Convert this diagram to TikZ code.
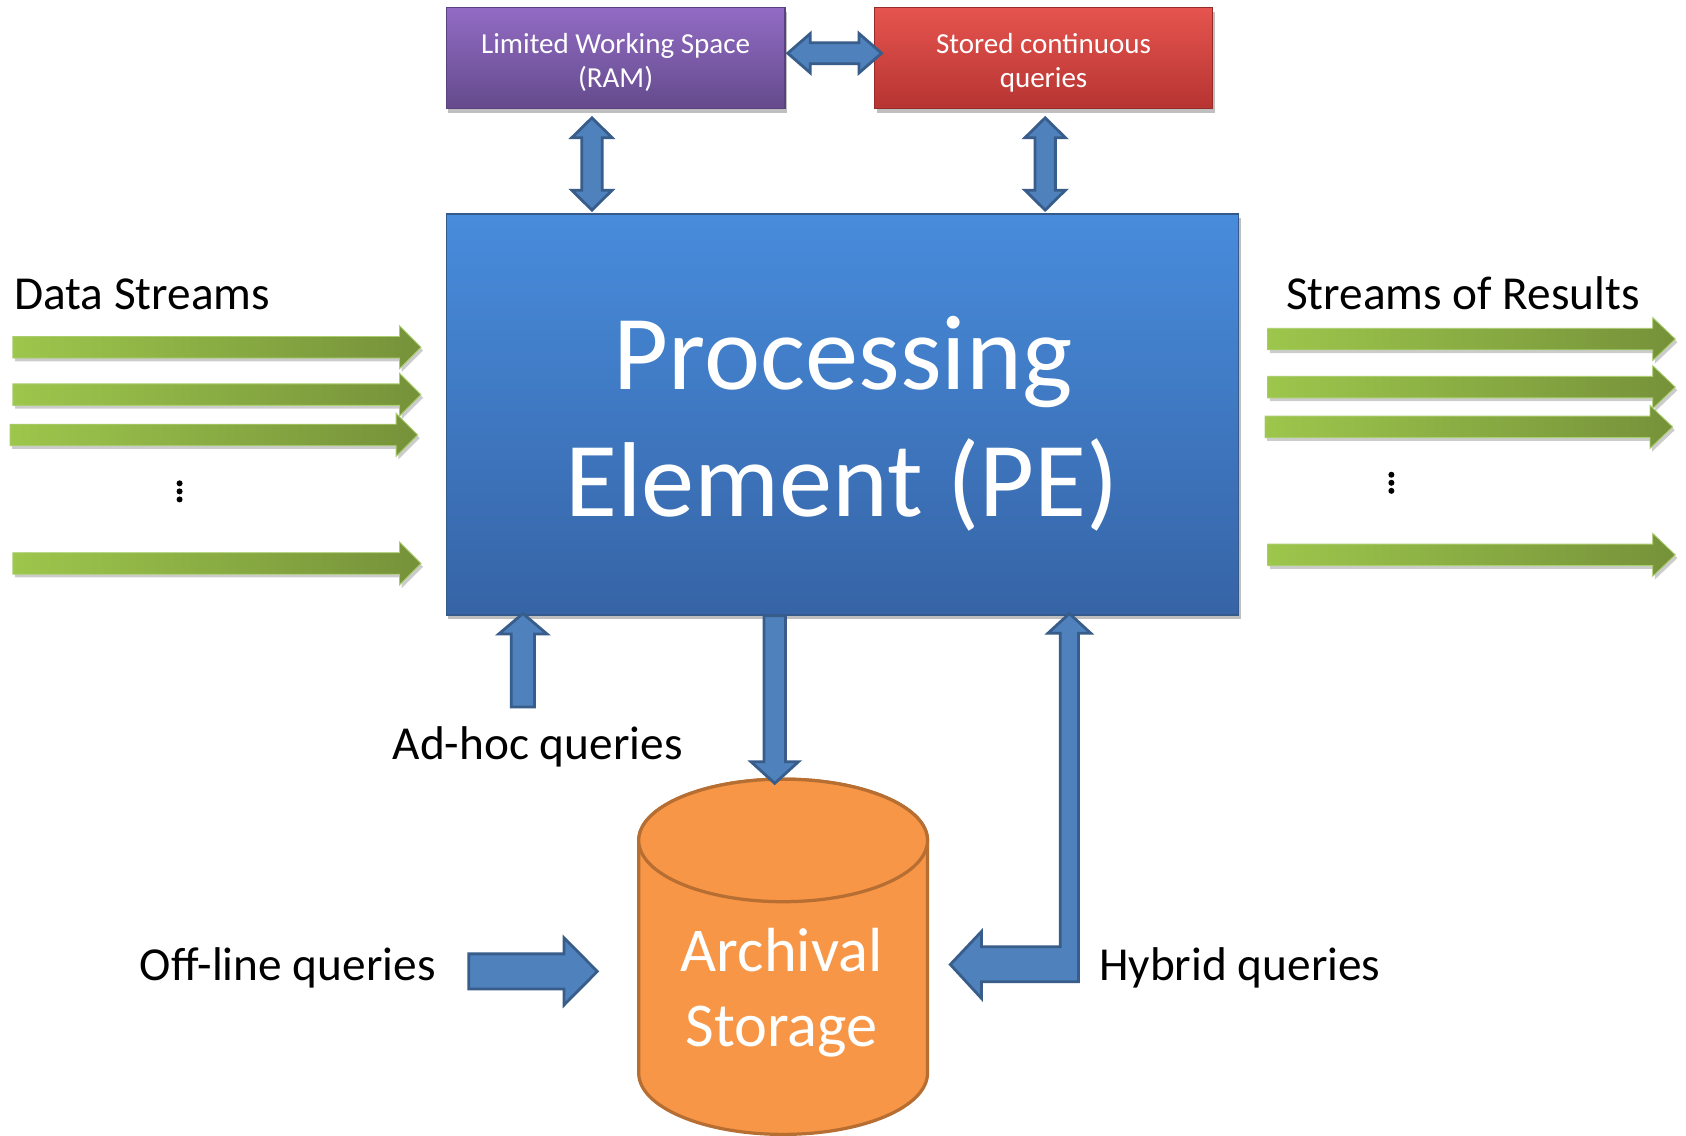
\documentclass[tikz,border=0pt]{standalone}
\usepackage{fontspec}
\setmainfont{Carlito}
\usetikzlibrary{calc,shadows}
\definecolor{peTop}{RGB}{72,140,220}
\definecolor{peBot}{RGB}{54,100,166}
\definecolor{peBorder}{RGB}{52,90,140}
\definecolor{ramTop}{RGB}{146,108,196}
\definecolor{ramBot}{RGB}{100,74,140}
\definecolor{ramBorder}{RGB}{90,66,128}
\definecolor{stTop}{RGB}{230,84,78}
\definecolor{stBot}{RGB}{182,52,50}
\definecolor{stBorder}{RGB}{150,44,42}
\definecolor{blueFill}{RGB}{79,129,189}
\definecolor{blueLine}{RGB}{56,93,138}
\definecolor{greenL}{RGB}{157,198,76}
\definecolor{greenD}{RGB}{118,146,58}
\definecolor{greenLine}{RGB}{170,206,110}
\definecolor{orFill}{RGB}{247,150,70}
\definecolor{orLine}{RGB}{182,110,50}
\tikzset{
  boxshadow/.style={drop shadow={opacity=0.25,shadow xshift=2pt,shadow yshift=-4pt,fill=black}},
  pebox/.style={rectangle,inner sep=0pt,minimum width=737pt,minimum height=373pt,
    top color=peTop,bottom color=peBot,draw=peBorder,line width=1.2pt,boxshadow},
  rambox/.style={rectangle,inner sep=0pt,minimum width=315pt,minimum height=94pt,
    top color=ramTop,bottom color=ramBot,draw=ramBorder,line width=1.2pt,boxshadow},
  stbox/.style={rectangle,inner sep=0pt,minimum width=314pt,minimum height=94pt,
    top color=stTop,bottom color=stBot,draw=stBorder,line width=1.2pt,boxshadow},
  bluearrow/.style={fill=blueFill,draw=blueLine,line width=2.6pt,line join=miter},
  greenarrow/.style={left color=greenL,right color=greenD,draw=greenLine,line width=0.8pt,
    drop shadow={opacity=0.2,shadow xshift=2pt,shadow yshift=-3pt,fill=black}},
  cyl/.style={fill=orFill,draw=orLine,line width=3pt},
  lbl/.style={font=\fontsize{44}{52}\selectfont,text=black,inner sep=0pt,anchor=base west},
  boxtxt/.style={font=\fontsize{27}{32}\selectfont,text=white,inner sep=0pt,anchor=base},
  petxt/.style={font=\fontsize{99}{118}\selectfont,text=white,inner sep=0pt,anchor=base},
  cyltxt/.style={font=\fontsize{58}{70}\selectfont,text=white,inner sep=0pt,anchor=base},
}
% single fat arrow: #1 style, #2 from, #3 to, #4 shaft half, #5 head half, #6 head length
\newcommand\fatarrow[6]{%
  \path[#1] ($(#2)!#4!90:(#3)$)
    -- ($($(#3)!#6!(#2)$)!#4!-90:(#2)$)
    -- ($($(#3)!#6!(#2)$)!#5!-90:(#2)$)
    -- (#3)
    -- ($($(#3)!#6!(#2)$)!#5!90:(#2)$)
    -- ($($(#3)!#6!(#2)$)!#4!90:(#2)$)
    -- ($(#2)!#4!-90:(#3)$) -- cycle;}
% double fat arrow
\newcommand\fatdarrow[6]{%
  \path[#1] (#2)
    -- ($($(#2)!#6!(#3)$)!#5!90:(#3)$)
    -- ($($(#2)!#6!(#3)$)!#4!90:(#3)$)
    -- ($($(#3)!#6!(#2)$)!#4!-90:(#2)$)
    -- ($($(#3)!#6!(#2)$)!#5!-90:(#2)$)
    -- (#3)
    -- ($($(#3)!#6!(#2)$)!#5!90:(#2)$)
    -- ($($(#3)!#6!(#2)$)!#4!90:(#2)$)
    -- ($($(#2)!#6!(#3)$)!#4!-90:(#3)$)
    -- ($($(#2)!#6!(#3)$)!#5!-90:(#3)$)
    -- cycle;}
\begin{document}
\begin{tikzpicture}[x=1pt,y=-1pt]
\useasboundingbox (0,0) rectangle (1568,1056);
\fill[white] (0,0) rectangle (1568,1056);

% boxes
\node[rambox] (ram) at (572.5,54) {};
\node[stbox] (stored) at (970.5,54) {};
\node[pebox] (pe) at (783.5,385.5) {};
\node[boxtxt] (ramt1) at (572.5,49.6) {Limited Working Space};
\node[boxtxt] (ramt2) at (572.5,81) {(RAM)};
\node[boxtxt] (stt1) at (970.5,49.6) {Stored continuous};
\node[boxtxt] (stt2) at (970.5,81) {queries};
\node[petxt] (pet1) at (784,362) {Processing};
\node[petxt] (pet2) at (783,480) {Element (PE)};

% archival storage cylinder
\node[rectangle,inner sep=0pt,minimum width=268.6pt,minimum height=330.4pt] (arch) at (728.3,889.8) {};
\path[cyl] (594,781.6) -- (594,998)
  arc[start angle=180,end angle=360,x radius=134.3pt,y radius=57pt]
  -- (862.6,781.6)
  arc[start angle=0,end angle=180,x radius=134.3pt,y radius=57pt] -- cycle;
\draw[cyl] (728.3,781.6) ellipse[x radius=134.3pt,y radius=57pt];
\node[cyltxt] (at1) at (727,903.6) {Archival};
\node[cyltxt] (at2) at (727,973.4) {Storage};

% blue arrows between boxes
\coordinate (h1) at ($(ram.east)+(2,-4.5)$);
\coordinate (h2) at ($(stored.west)+(7,-4.5)$);
\fatdarrow{bluearrow}{h1}{h2}{9.75pt}{18.3pt}{21pt}
\coordinate (v1a) at ($(ram.south)+(-22,8)$);
\coordinate (v1b) at ($(pe.north)+(-233,-3)$);
\fatdarrow{bluearrow}{v1a}{v1b}{9.5pt}{18.8pt}{18.5pt}
\coordinate (v2a) at ($(stored.south)+(1.5,8)$);
\coordinate (v2b) at ($(pe.north)+(188.5,-3)$);
\fatdarrow{bluearrow}{v2a}{v2b}{9.5pt}{18.8pt}{18.5pt}

% ad-hoc queries
\coordinate (adS) at (486.3,657.5);
\coordinate (adE) at ($(pe.south)+(-297.2,-2)$);
\fatarrow{bluearrow}{adS}{adE}{10.8pt}{22.4pt}{19pt}
\node[lbl] (adl) at (365,706.5) {Ad-hoc queries};

% PE to archival storage
\coordinate (dS) at ($(pe.south)+(-63,0)$);
\coordinate (dE) at (720.5,728.5);
\fatarrow{bluearrow}{dS}{dE}{10pt}{22pt}{20pt}

% off-line queries
\coordinate (oS) at (436,903.4);
\coordinate (oE) at ($(arch.west)+(-38.3,13.6)$);
\fatarrow{bluearrow}{oS}{oE}{16.3pt}{31.3pt}{31pt}
\node[lbl] (ofl) at (130,911.5) {Off-line queries};

% hybrid queries (bent arrow)
\coordinate (hyT) at ($(pe.south)+(211,-2)$);
\coordinate (hyL) at ($(arch.east)+(21,7.2)$);
\path[bluearrow] (hyT) -- (1014.5,589) -- (1003,589) -- (1003,913) -- (912.7,913)
  -- (912.7,928.4) -- (hyL) -- (912.7,866.4) -- (912.7,880.4) -- (986,880.4)
  -- (986,589) -- (974.5,589) -- cycle;
\node[lbl] (hyl) at (1022,911.5) {Hybrid queries};

% input data streams
\node[lbl] (dsl) at (13,288.3) {Data Streams};
\coordinate (i1s) at (12,323); \coordinate (i1e) at (391.5,323);
\coordinate (i2s) at (12,367); \coordinate (i2e) at (391.5,367);
\coordinate (i3s) at (9.3,404.5); \coordinate (i3e) at (388.4,404.5);
\coordinate (i4s) at (12,524); \coordinate (i4e) at (391.5,524);
\fatarrow{greenarrow}{i1s}{i1e}{10pt}{20pt}{20pt}
\fatarrow{greenarrow}{i2s}{i2e}{10pt}{20pt}{20pt}
\fatarrow{greenarrow}{i3s}{i3e}{10pt}{20pt}{20pt}
\fatarrow{greenarrow}{i4s}{i4e}{10pt}{20pt}{20pt}
\foreach \yy in {449.5,457,464.5} \fill[black] (167,\yy) circle[radius=2.8pt];

% output result streams
\node[lbl] (srl) at (1196,288.3) {Streams of Results};
\coordinate (o1s) at (1179,315.3); \coordinate (o1e) at (1558,315.3);
\coordinate (o2s) at (1179,360); \coordinate (o2e) at (1558,360);
\coordinate (o3s) at (1176.5,397); \coordinate (o3e) at (1555.5,397);
\coordinate (o4s) at (1179,516); \coordinate (o4e) at (1558,516);
\fatarrow{greenarrow}{o1s}{o1e}{10pt}{20pt}{21pt}
\fatarrow{greenarrow}{o2s}{o2e}{10pt}{20pt}{21pt}
\fatarrow{greenarrow}{o3s}{o3e}{10pt}{20pt}{21pt}
\fatarrow{greenarrow}{o4s}{o4e}{10pt}{20pt}{21pt}
\foreach \yy in {441.5,449,456.5} \fill[black] (1294,\yy) circle[radius=2.8pt];
\end{tikzpicture}
\end{document}
